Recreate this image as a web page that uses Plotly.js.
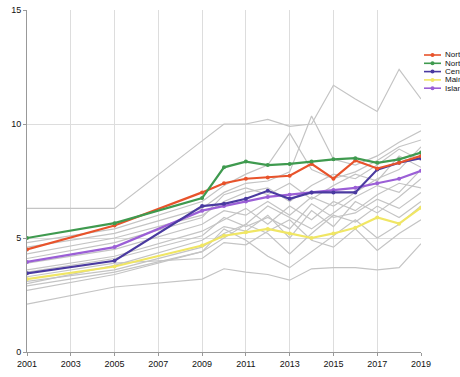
<!DOCTYPE html>
<html>
<head>
<meta charset="utf-8">
<script src="https://cdn.plot.ly/plotly-3.0.1.min.js"></script>
<style>html,body{margin:0;padding:0;background:#fff;}#chart{width:460px;height:377px;}</style>
</head>
<body>
<div id="chart"></div>
<script>
// ---- data ----
const years = [2001, 2005, 2009, 2010, 2011, 2012, 2013, 2014, 2015, 2016, 2017, 2018, 2019];
const xTicks = [2001, 2003, 2005, 2007, 2009, 2011, 2013, 2015, 2017, 2019];
const yTicks = [0, 5, 10, 15];

const northWest = [4.5, 5.55, 7.0, 7.4, 7.6, 7.65, 7.73, 8.25, 7.6, 8.4, 8.05, 8.3, 8.6];
const northEast = [5.0, 5.65, 6.75, 8.1, 8.35, 8.2, 8.25, 8.35, 8.45, 8.5, 8.3, 8.45, 8.75];
const centre    = [3.45, 4.0, 6.4, 6.5, 6.72, 7.07, 6.72, 7.0, 7.0, 7.0, 8.0, 8.3, 8.5];
const mainland  = [3.2, 3.75, 4.67, 5.1, 5.25, 5.4, 5.2, 5.0, 5.2, 5.45, 5.9, 5.63, 6.33];
const islands   = [3.95, 4.6, 6.2, 6.4, 6.6, 6.8, 6.9, 7.0, 7.1, 7.2, 7.4, 7.6, 7.95];

const regionA = [6.3, 6.3, 9.26, 10.0, 10.0, 10.2, 9.9, 10.0, 11.7, 11.1, 10.55, 12.4, 11.1];
const regionB = [4.8, 5.4, 6.6, 7.3, 7.8, 8.2, 9.6, 8.0, 7.6, 7.9, 8.4, 9.0, 9.3];
const regionC = [4.6, 5.2, 6.3, 7.0, 7.4, 7.5, 7.9, 10.35, 8.45, 8.2, 8.6, 9.2, 9.7];
const regionD = [4.3, 5.0, 6.0, 6.6, 7.0, 7.2, 6.6, 7.3, 7.8, 7.6, 8.2, 8.9, 8.4];
const regionE = [3.9, 4.5, 5.6, 6.2, 6.0, 6.6, 6.0, 6.8, 6.4, 7.0, 7.6, 8.0, 9.0];
const regionF = [3.6, 4.2, 5.3, 5.8, 6.3, 5.6, 6.4, 5.8, 6.6, 6.2, 6.9, 7.4, 7.2];
const regionG = [3.0, 3.8, 4.9, 5.5, 5.3, 6.0, 5.0, 6.2, 5.5, 6.6, 6.1, 6.8, 7.6];
const regionH = [2.7, 3.4, 4.4, 5.0, 5.6, 5.2, 4.3, 5.2, 6.0, 5.7, 6.4, 5.9, 6.6];
const regionI = [3.3, 3.9, 4.1, 4.8, 4.7, 5.3, 5.8, 4.9, 4.6, 5.4, 4.45, 5.2, 5.8];
const regionJ = [2.9, 3.5, 4.4, 5.4, 4.9, 4.2, 3.7, 4.4, 5.1, 5.8, 5.0, 5.6, 6.4];
const regionK = [2.1, 2.85, 3.2, 3.65, 3.5, 3.4, 3.15, 3.65, 3.7, 3.7, 3.6, 3.7, 4.75];
const regionL = [3.1, 3.6, 4.6, 5.2, 5.6, 6.4, 5.9, 5.4, 6.1, 6.8, 7.3, 7.0, 8.0];
const regionM = [4.1, 4.8, 5.9, 6.9, 7.2, 6.9, 7.4, 6.7, 7.3, 7.8, 7.5, 8.6, 8.1];
const regionN = [3.5, 4.1, 5.1, 5.9, 5.5, 5.9, 5.4, 6.5, 5.9, 6.1, 6.7, 6.3, 7.0];

const grayRegions = [regionA, regionB, regionC, regionD, regionE, regionF, regionG,
                     regionH, regionI, regionJ, regionK, regionL, regionM, regionN];

const highlightNames  = ['North-west', 'North-east', 'Centre', 'Mainland South', 'Islands'];
const highlightValues = [northWest, northEast, centre, mainland, islands];
const highlightColors = ['#e8532b', '#3f9a4f', '#4a3aa0', '#f0e664', '#9b5fd6'];
const drawOrder = [3, 4, 2, 0, 1];

// ---- traces ----
const traces = [];
grayRegions.forEach(v => traces.push({
  x: years, y: v, type: 'scatter', mode: 'lines',
  line: {color: '#c4c4c4', width: 1.2}, showlegend: false, hoverinfo: 'skip'
}));
drawOrder.forEach(i => traces.push({
  x: years, y: highlightValues[i], type: 'scatter', mode: 'lines+markers',
  name: highlightNames[i],
  line: {color: highlightColors[i], width: 2.2},
  marker: {color: highlightColors[i], size: 4},
  showlegend: false
}));

// ---- custom compact legend ----
const plotL = 27, plotR = 421, plotT = 10, plotB = 352;
const px2x = p => (p - plotL) / (plotR - plotL);
const px2y = p => (plotB - p) / (plotB - plotT);
const shapes = [], annotations = [];
highlightNames.forEach((n, k) => {
  const yp = 55 + k * 8.3;
  shapes.push({type: 'line', xref: 'paper', yref: 'paper',
    x0: px2x(424), x1: px2x(441), y0: px2y(yp), y1: px2y(yp),
    line: {color: highlightColors[k], width: 1.6}});
  shapes.push({type: 'circle', xref: 'paper', yref: 'paper',
    x0: px2x(430.5), x1: px2x(434.5), y0: px2y(yp + 2), y1: px2y(yp - 2),
    fillcolor: highlightColors[k], line: {width: 0}});
  annotations.push({xref: 'paper', yref: 'paper', x: px2x(443), y: px2y(yp),
    xanchor: 'left', yanchor: 'middle', showarrow: false, text: n,
    font: {family: 'Liberation Sans Narrow, Liberation Sans, Arial', size: 8, color: '#111'}});
});

const layout = {
  width: 460, height: 377,
  margin: {l: plotL, r: 460 - plotR, t: plotT, b: 377 - plotB, pad: 0},
  paper_bgcolor: '#ffffff', plot_bgcolor: '#ffffff',
  showlegend: false,
  font: {family: 'Liberation Sans Narrow, Liberation Sans, Arial', size: 9, color: '#111'},
  xaxis: {
    range: [2001, 2019], tickvals: xTicks, ticktext: xTicks.map(String),
    showgrid: true, gridcolor: '#dddddd', gridwidth: 1,
    showline: true, linecolor: '#999', linewidth: 1,
    ticks: 'outside', ticklen: 3, tickcolor: '#999',
    zeroline: false, tickfont: {size: 9, color: '#111'}
  },
  yaxis: {
    range: [0, 15], tickvals: yTicks, ticktext: yTicks.map(String),
    showgrid: true, gridcolor: '#dddddd', gridwidth: 1,
    showline: true, linecolor: '#999', linewidth: 1,
    ticks: 'outside', ticklen: 3, tickcolor: '#999',
    zeroline: false, tickfont: {size: 9, color: '#111'}
  },
  shapes: shapes,
  annotations: annotations
};

Plotly.newPlot('chart', traces, layout, {staticPlot: true, displayModeBar: false});
</script>
</body>
</html>
